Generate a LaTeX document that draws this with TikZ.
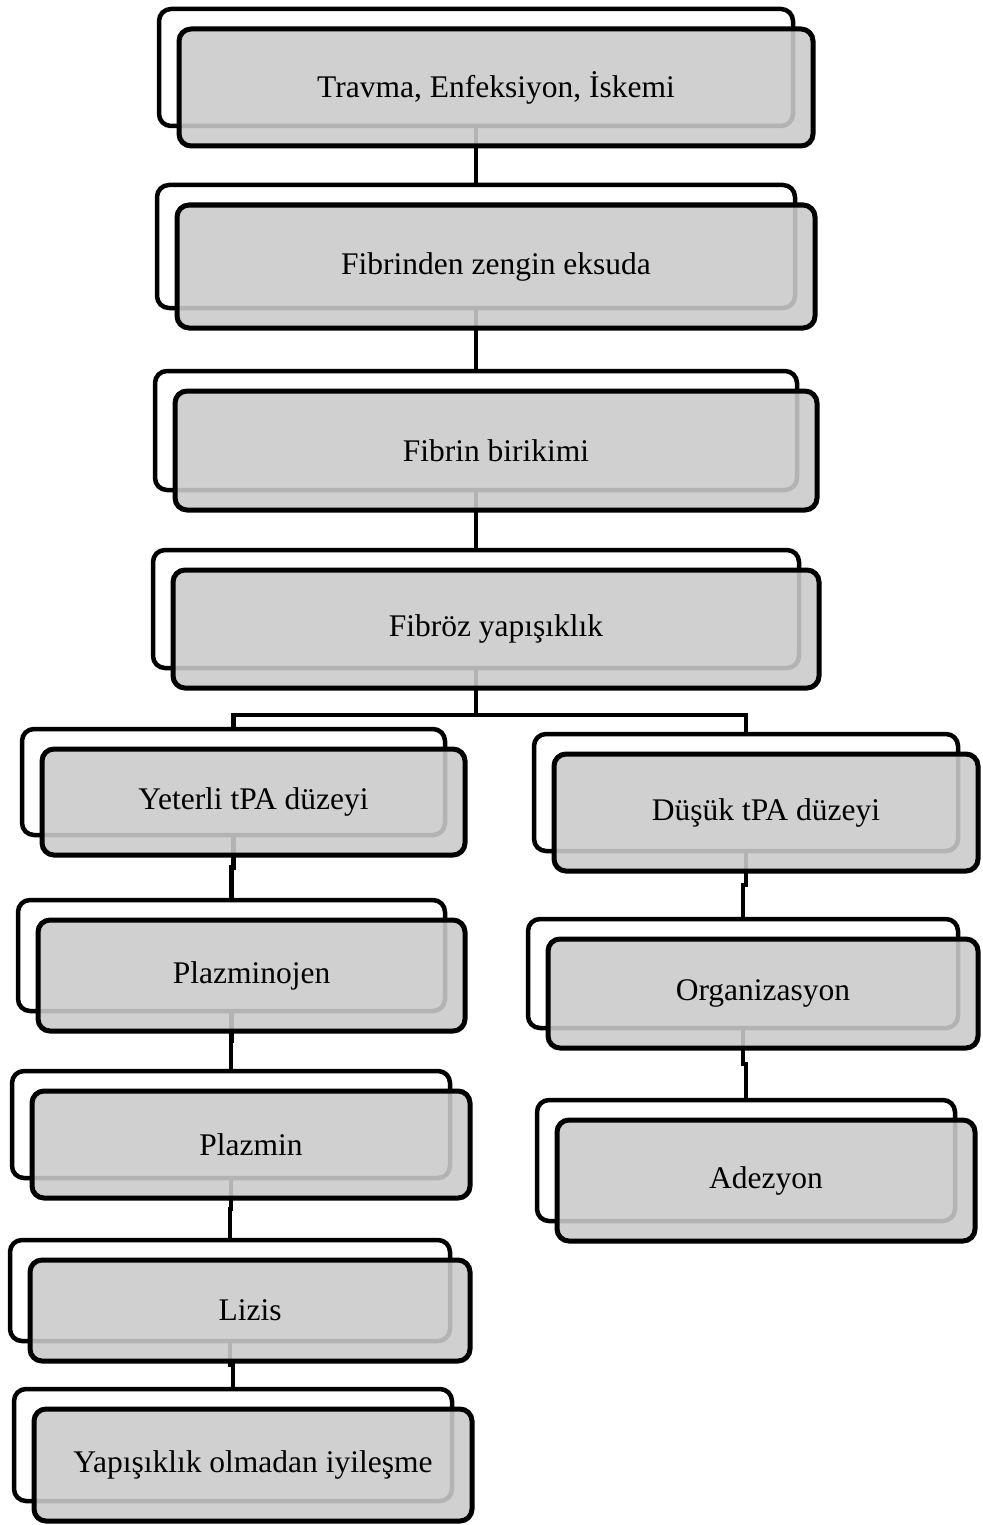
\documentclass[tikz,border=0pt]{standalone}
\usepackage{fontspec}
\setmainfont{Liberation Serif}
\usetikzlibrary{calc}
\definecolor{frontgray}{RGB}{202,202,202}
\tikzset{
  backbox/.style={draw=black, line width=4.5pt, fill=white, rounded corners=12pt,
    inner sep=0pt, outer sep=0pt},
  frontbox/.style={draw=black, line width=5pt, fill=frontgray, fill opacity=0.886,
    draw opacity=1, text opacity=1, rounded corners=12pt, inner sep=0pt, outer sep=0pt,
    font=\fontsize{31.5}{36}\selectfont, text=black, align=center},
  conn/.style={draw=black, line width=4.5pt}
}
\begin{document}
\begin{tikzpicture}[x=1pt, y=-1pt]
\useasboundingbox (0,0) rectangle (982,1525);
% back boxes
\node[backbox, minimum width=634, minimum height=117] (b1) at (476,67.5) {};
\node[backbox, minimum width=638, minimum height=123] (b2) at (476,246.5) {};
\node[backbox, minimum width=642, minimum height=119] (b3) at (476,430.5) {};
\node[backbox, minimum width=646, minimum height=118] (b4) at (476,609) {};
\node[backbox, minimum width=423, minimum height=106] (b5) at (233.5,782) {};
\node[backbox, minimum width=427, minimum height=111] (b6) at (231.5,955.5) {};
\node[backbox, minimum width=438, minimum height=107] (b7) at (231,1124.5) {};
\node[backbox, minimum width=440, minimum height=101] (b8) at (230,1290.5) {};
\node[backbox, minimum width=438, minimum height=112] (b9) at (233,1445) {};
\node[backbox, minimum width=424, minimum height=117] (b10) at (746,792.5) {};
\node[backbox, minimum width=430, minimum height=109] (b11) at (743,973.5) {};
\node[backbox, minimum width=418, minimum height=121] (b12) at (746,1160.5) {};
% connectors
\coordinate (split) at (476,715);
\draw[conn] (b1.south) -- (b2.north);
\draw[conn] (b2.south) -- (b3.north);
\draw[conn] (b3.south) -- (b4.north);
\draw[conn] (b4.south) -- (split);
\draw[conn] (split) -| (b5.north);
\draw[conn] (split) -| (b10.north);
\draw[conn] (b5.south) |- ($(b5.south)!0.5!(b6.north)$) -| (b6.north);
\draw[conn] (b6.south) |- ($(b6.south)!0.5!(b7.north)$) -| (b7.north);
\draw[conn] (b7.south) |- ($(b7.south)!0.5!(b8.north)$) -| (b8.north);
\draw[conn] (b8.south) |- ($(b8.south)!0.5!(b9.north)$) -| (b9.north);
\draw[conn] (b10.south) |- ($(b10.south)!0.5!(b11.north)$) -| (b11.north);
\draw[conn] (b11.south) |- ($(b11.south)!0.5!(b12.north)$) -| (b12.north);
% front boxes
\node[frontbox, minimum width=634, minimum height=117] (f1) at (496,87.5) {Travma, Enfeksiyon, İskemi};
\node[frontbox, minimum width=638, minimum height=123] (f2) at (496,266.5) {Fibrinden zengin eksuda};
\node[frontbox, minimum width=642, minimum height=119] (f3) at (496,450.5) {Fibrin birikimi};
\node[frontbox, minimum width=646, minimum height=118] (f4) at (496,629) {Fibröz yapışıklık};
\node[frontbox, minimum width=423, minimum height=106] (f5) at (253.5,802) {Yeterli tPA düzeyi};
\node[frontbox, minimum width=427, minimum height=111] (f6) at (251.5,975.5) {Plazminojen};
\node[frontbox, minimum width=438, minimum height=107] (f7) at (251,1144.5) {Plazmin};
\node[frontbox, minimum width=440, minimum height=101] (f8) at (250,1310.5) {Lizis};
\node[frontbox, minimum width=438, minimum height=112] (f9) at (253,1465) {Yapışıklık olmadan iyileşme};
\node[frontbox, minimum width=424, minimum height=117] (f10) at (766,812.5) {Düşük tPA düzeyi};
\node[frontbox, minimum width=430, minimum height=109] (f11) at (763,993.5) {Organizasyon};
\node[frontbox, minimum width=418, minimum height=121] (f12) at (766,1180.5) {Adezyon};
\end{tikzpicture}
\end{document}
